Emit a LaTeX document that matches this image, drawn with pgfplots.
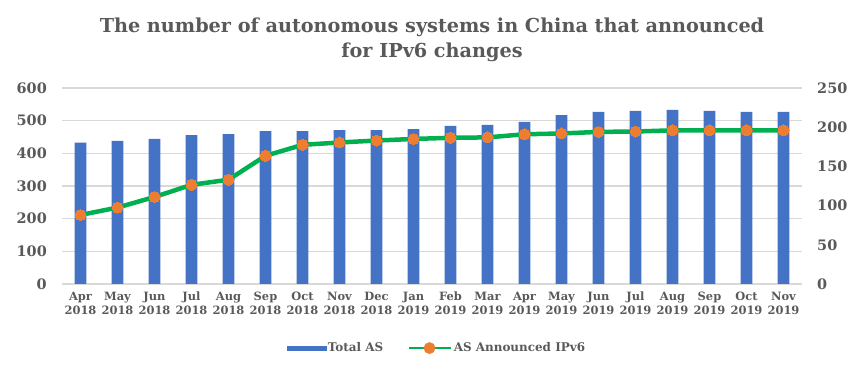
\documentclass[border=0pt]{standalone}
\usepackage{fontspec}
\setmainfont{DejaVu Serif}
\usepackage{pgfplots}
\usepackage{pgfplotstable}
\pgfplotsset{compat=1.18}
\definecolor{barblue}{HTML}{4472C4}
\definecolor{linegreen}{HTML}{00B050}
\definecolor{markorange}{HTML}{ED7D31}
\definecolor{gridgray}{HTML}{D9D9D9}
\definecolor{textgray}{HTML}{595959}

\pgfplotstableread{
x total ipv6
0 433 88
1 438 97.5
2 444 111
3 456 126.5
4 459 133
5 468 163.5
6 468 177.5
7 471 180.5
8 471 183
9 474 185
10 484 186.5
11 487 187
12 496 191
13 517 192
14 527 194
15 530 194.5
16 533 196
17 530 196
18 527 196
19 527 196
}\datatable

\begin{document}
\begin{tikzpicture}
\path[use as bounding box] (0bp,0bp) rectangle (864bp,372bp);
\node[align=center, font=\bfseries\fontsize{19.3}{25}\selectfont, text=textgray] at (432bp,332bp) {The number of autonomous systems in China that announced\\for IPv6 changes};
\pgfplotsset{common/.style={
  scale only axis, width=740bp, height=196bp,
  at={(62bp,88bp)}, anchor=south west,
  xmin=-0.5, xmax=19.5, ymin=0,
  /pgf/number format/assume math mode=true,
  major tick length=0pt,
  axis line style={draw=none},
  tick style={draw=none},
}}
\begin{axis}[common,
  ymax=600, ytick={0,100,...,600},
  ymajorgrids, grid style={gridgray, line width=1.2bp},
  xtick={0,...,19},
  xticklabels={{Apr\\2018},{May\\2018},{Jun\\2018},{Jul\\2018},{Aug\\2018},{Sep\\2018},{Oct\\2018},{Nov\\2018},{Dec\\2018},{Jan\\2019},{Feb\\2019},{Mar\\2019},{Apr\\2019},{May\\2019},{Jun\\2019},{Jul\\2019},{Aug\\2019},{Sep\\2019},{Oct\\2019},{Nov\\2019}},
  x tick label style={align=center, inner sep=0pt, anchor=north, yshift=-8bp, font=\bfseries\fontsize{11.5}{14}\selectfont, text=textgray},
  y tick label style={inner sep=0pt, anchor=east, xshift=-15bp, font=\bfseries\fontsize{14.5}{16}\selectfont, text=textgray},
]
\addplot[ybar, bar width=0.32, fill=barblue, draw=none] table[x=x, y=total] {\datatable};
\end{axis}
\begin{axis}[common,
  ymax=250, ytick={0,50,...,250},
  axis y line*=right, axis x line=none,
  y tick label style={inner sep=0pt, anchor=west, xshift=15bp, font=\bfseries\fontsize{14.5}{16}\selectfont, text=textgray},
  legend style={at={(0.5065,-0.327)}, anchor=center, legend columns=2, draw=none, fill=none,
    font=\bfseries\fontsize{12}{14}\selectfont, text=textgray,
    /tikz/every even column/.append style={column sep=22bp}},
]
\addlegendimage{legend image code/.code={\fill[barblue] (0bp,-2.3bp) rectangle (39bp,2.3bp);}}
\addlegendentry{Total AS}
\addplot[linegreen, line width=4.5bp, mark=*, mark size=5.5bp,
  mark options={solid, line width=0pt, draw=markorange, fill=markorange},
  legend image code/.code={\draw[linegreen, line width=2.5bp] (0bp,0bp) -- (42bp,0bp); \fill[markorange] (21bp,0bp) circle (3.5bp);}]
  table[x=x, y=ipv6] {\datatable};
\addlegendentry{AS Announced IPv6}
\end{axis}
\end{tikzpicture}
\end{document}
